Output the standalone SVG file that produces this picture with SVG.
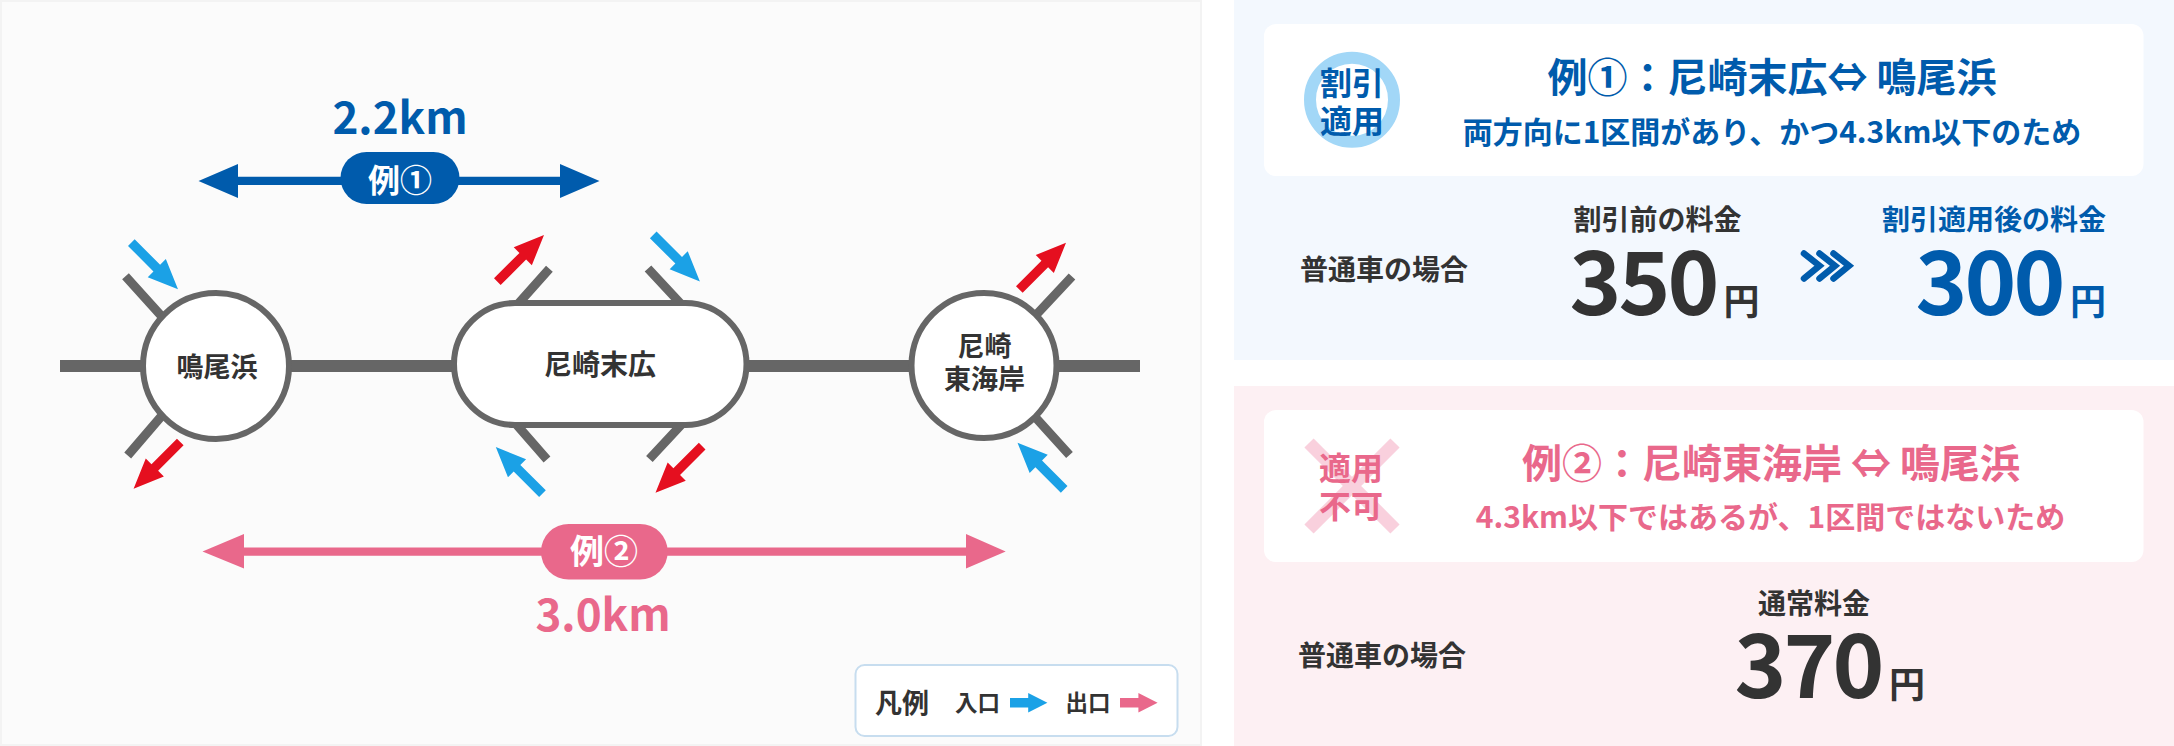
<svg xmlns="http://www.w3.org/2000/svg" width="2174" height="746" viewBox="0 0 2174 746">
<style>
text{font-family:"Noto Sans CJK JP","Noto Sans",sans-serif;font-weight:700;text-anchor:middle;fill:#333}
.b{fill:#005bac}.p{fill:#e9688b}.w{fill:#fff}
.station{fill:#fff;stroke:#666;stroke-width:6}
.track{stroke:#666;stroke-width:12;fill:none}
.spur{stroke:#666;stroke-width:9;fill:none}
.in{fill:#1ba1e6}.out{fill:#e50f1f}
.card{fill:#fff}
.f28{font-size:28px}.f27{font-size:27px}
.price{font-size:88px;letter-spacing:-3px}
</style>
<defs>
<polygon id="arr" points="-66,-4.7 -30,-4.7 -30,-12.8 0,0 -30,12.8 -30,4.7 -66,4.7"/>
</defs>
<rect width="2174" height="746" fill="#fff"/>
<rect x="1" y="1" width="1200" height="744" fill="#fbfbfb" stroke="#f3f3f3" stroke-width="2"/>
<g id="connectors">
<path class="track" d="M60 366H1140"/>
<path class="spur" d="M125.500 276.200L165 320M127.700 455.500L165 412M549.400 268.700L518 304M547 459.500L516 424M648 268.500L681 304M649.400 459L682 424M1072 276.500L1036 315M1069.500 455L1036 418"/>
<use href="#arr" class="in" transform="translate(178 289.300) rotate(45)"/>
<use href="#arr" class="out" transform="translate(133.600 488.700) rotate(135)"/>
<use href="#arr" class="out" transform="translate(544 235) rotate(-45)"/>
<use href="#arr" class="in" transform="translate(495.800 447) rotate(225)"/>
<use href="#arr" class="in" transform="translate(699.900 281.500) rotate(45)"/>
<use href="#arr" class="out" transform="translate(655.500 492.800) rotate(135)"/>
<use href="#arr" class="out" transform="translate(1066 242.800) rotate(-45)"/>
<use href="#arr" class="in" transform="translate(1017.500 442.700) rotate(225)"/>
<polygon class="b" points="198.500,181 238,164 238,176.800 560,176.800 560,164 599.500,181 560,198 560,185 238,185 238,198"/>
<polygon class="p" points="202.500,551.500 244,534 244,547.500 966,547.500 966,534 1005.700,551.500 966,568.500 966,555.800 244,555.800 244,568.500"/>
</g>
<g id="example1-label">
<text class="b" x="400" y="134" font-size="44">2.2km</text>
<rect class="b" x="340.500" y="152" width="119" height="52" rx="26"/>
<text class="w" x="400" y="192" font-size="32">例①</text>
</g>
<g id="example2-label">
<rect class="p" x="541" y="524" width="126.700" height="55.500" rx="27.700"/>
<text class="w" x="604" y="564" font-size="34">例②</text>
<text class="p" x="603" y="631" font-size="44">3.0km</text>
</g>
<g id="node-naruohama">
<circle class="station" cx="216" cy="366" r="73"/>
<text class="f27" x="217" y="377">鳴尾浜</text>
</g>
<g id="node-amagasaki-suehiro">
<rect class="station" x="454" y="303" width="292.500" height="122" rx="61"/>
<text class="f28" x="600" y="375">尼崎末広</text>
</g>
<g id="node-amagasaki-higashikaigan">
<circle class="station" cx="984" cy="365.500" r="72.500"/>
<text class="f27" x="984.500" y="355.500">尼崎</text>
<text class="f27" x="984.500" y="389">東海岸</text>
</g>
<g id="legend">
<rect x="855.500" y="665" width="322" height="71" rx="9" fill="#fff" stroke="#c7ddef" stroke-width="2"/>
<text x="902" y="713" font-size="27">凡例</text>
<text x="977.500" y="710.500" font-size="22.500">入口</text>
<polygon class="in" points="1010,698 1028.200,698 1028.200,693 1047.400,702.700 1028.200,712.500 1028.200,707.500 1010,707.500"/>
<text x="1088" y="710.500" font-size="22.500">出口</text>
<polygon class="p" points="1120,698 1138.400,698 1138.400,693 1157.600,702.700 1138.400,712.500 1138.400,707.500 1120,707.500"/>
</g>
<g id="panel-example1">
<rect x="1234" y="0" width="940" height="360" fill="#f3f8fe"/>
<rect class="card" x="1264" y="24" width="879.500" height="152" rx="12"/>
<circle cx="1352" cy="99.700" r="42" fill="#fff" stroke="#a2d7f7" stroke-width="12"/>
<text class="b" x="1352" y="94.500" font-size="32">割引</text>
<text class="b" x="1352" y="132.500" font-size="32">適用</text>
<text class="b" x="1772" y="92" font-size="40">例①：尼崎末広⇔ 鳴尾浜</text>
<text class="b" x="1772" y="142.500" font-size="30">両方向に1区間があり、かつ4.3km以下のため</text>
<text class="f28" x="1384" y="280">普通車の場合</text>
<text class="f28" x="1657.500" y="229.500">割引前の料金</text>
<text class="price" x="1643" y="315">350</text>
<text x="1741.500" y="315" font-size="36">円</text>
<path d="M1804 253.500L1819.500 265.800L1804 278.500M1819.500 253.500L1835 265.800L1819.500 278.500M1833.500 253.500L1849 265.800L1833.500 278.500" fill="none" stroke="#005bac" stroke-width="6.500" stroke-linecap="round" stroke-linejoin="miter"/>
<text class="f28 b" x="1994" y="229.500">割引適用後の料金</text>
<text class="b price" x="1989" y="315">300</text>
<text class="b" x="2088" y="315" font-size="36">円</text>
</g>
<g id="panel-example2">
<rect x="1234" y="386" width="940" height="360" fill="#fdf0f3"/>
<rect class="card" x="1264" y="410" width="879.500" height="152" rx="12"/>
<path d="M1309 443L1395 529M1395 443L1309 529" stroke="#f9d0dd" stroke-width="13" fill="none"/>
<text class="p" x="1351" y="479.500" font-size="32">適用</text>
<text class="p" x="1351" y="518" font-size="32">不可</text>
<text class="p" x="1771" y="478" font-size="40">例②：尼崎東海岸 ⇔ 鳴尾浜</text>
<text class="p" x="1770.500" y="528" font-size="30">4.3km以下ではあるが、1区間ではないため</text>
<text class="f28" x="1382" y="666">普通車の場合</text>
<text class="f28" x="1814" y="614">通常料金</text>
<text class="price" x="1808" y="698">370</text>
<text x="1907" y="698" font-size="36">円</text>
</g>
</svg>
